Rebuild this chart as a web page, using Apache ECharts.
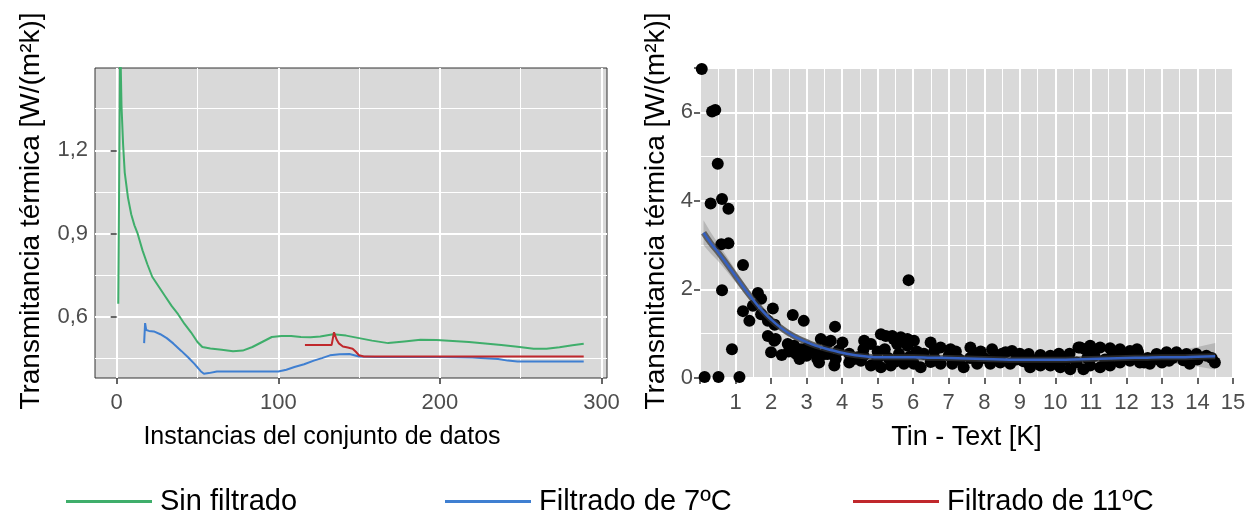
<!DOCTYPE html>
<html>
<head>
<meta charset="utf-8">
<script src="https://cdn.jsdelivr.net/npm/echarts@6/dist/echarts.min.js"></script>
<style>
  html, body { margin: 0; padding: 0; background: #ffffff; }
  #chart { width: 1255px; height: 521px; }
</style>
</head>
<body>
<div id="chart"></div>
<script>
// --- datos del panel izquierdo (instancia, transmitancia) ---
var sinFiltrado = [
    [1, 0.648], [2.2, 1.60], [3, 1.36], [4, 1.22], [5, 1.12], [7, 1.03], [9, 0.97], [11, 0.93],
    [13, 0.90], [16, 0.84], [19, 0.79], [22, 0.745], [26, 0.71], [30, 0.675], [34, 0.64],
    [38, 0.61], [42, 0.575], [46, 0.545], [50, 0.51], [53, 0.492], [58, 0.487], [65, 0.482],
    [72, 0.477], [78, 0.479], [84, 0.492], [90, 0.51], [96, 0.528], [102, 0.532], [108, 0.532],
    [114, 0.528], [120, 0.527], [126, 0.53], [134, 0.538], [142, 0.533], [150, 0.524],
    [158, 0.515], [168, 0.506], [178, 0.512], [188, 0.518], [198, 0.517], [208, 0.514],
    [218, 0.51], [228, 0.505], [238, 0.499], [248, 0.493], [258, 0.486], [266, 0.486],
    [274, 0.491], [282, 0.498], [289, 0.504]
];
var filtrado7 = [
    [17, 0.506], [17.6, 0.578], [18.3, 0.553], [20, 0.55], [23, 0.548], [27, 0.538], [31, 0.524],
    [35, 0.505], [40, 0.478], [44, 0.456], [48, 0.432], [52, 0.405], [54, 0.396], [57, 0.398],
    [62, 0.404], [75, 0.404], [90, 0.404], [100, 0.404], [105, 0.41], [110, 0.42], [116, 0.43],
    [122, 0.443], [127, 0.452], [132, 0.462], [138, 0.466], [144, 0.467], [150, 0.458],
    [160, 0.456], [180, 0.456], [200, 0.456], [220, 0.454], [236, 0.449], [242, 0.443],
    [248, 0.44], [289, 0.44]
];
var filtrado11 = [
    [116.5, 0.499], [133, 0.499], [134.5, 0.545], [136, 0.52], [137.5, 0.505], [140, 0.494],
    [143, 0.49], [146, 0.486], [148, 0.475], [150, 0.462], [153, 0.458], [289, 0.458]
];

// --- datos del panel derecho (Tin - Text, transmitancia) ---
var puntos = [
    [0.05, 6.98], [0.34, 6.02], [0.43, 6.05], [0.50, 4.84], [0.30, 3.94], [0.62, 4.04], [0.80, 3.82],
    [0.60, 3.02], [0.80, 3.04], [0.62, 1.98], [1.21, 2.55], [0.90, 0.65], [0.13, 0.02], [0.52, 0.02],
    [1.11, 0.02], [1.63, 1.92], [1.72, 1.79], [1.49, 1.63], [1.21, 1.51], [1.39, 1.29], [2.05, 1.57],
    [1.72, 1.44], [1.91, 1.29], [2.10, 1.20], [2.61, 1.42], [2.92, 1.29], [3.80, 1.16], [1.91, 0.95],
    [2.13, 0.88], [2.09, 0.84], [2.47, 0.77], [2.65, 0.73], [2.84, 0.65], [3.03, 0.69], [3.22, 0.61],
    [3.40, 0.88], [3.59, 0.80], [2.00, 0.58], [2.30, 0.52], [2.50, 0.60], [2.70, 0.55], [2.80, 0.43],
    [3.00, 0.50], [3.30, 0.43], [3.35, 0.35], [3.08, 0.65], [3.68, 0.84], [4.01, 0.80], [3.59, 0.54],
    [3.82, 0.43], [3.78, 0.28], [3.50, 0.54], [4.62, 0.84], [4.81, 0.77], [5.23, 0.95], [5.41, 0.95],
    [5.65, 0.92], [5.84, 0.88], [6.02, 0.84], [5.55, 0.77], [5.84, 0.73], [6.49, 0.80], [6.77, 0.69],
    [7.05, 0.65], [4.34, 0.43], [4.53, 0.39], [4.81, 0.28], [5.09, 0.24], [5.37, 0.28], [5.74, 0.32],
    [6.02, 0.32], [6.21, 0.24], [6.49, 0.36], [6.77, 0.32], [7.10, 0.32], [4.43, 0.47], [4.99, 0.43],
    [5.87, 2.21], [7.42, 0.24], [7.61, 0.69], [7.80, 0.32], [7.90, 0.60], [8.17, 0.32], [8.22, 0.65],
    [8.45, 0.35], [8.60, 0.58], [8.73, 0.32], [8.78, 0.61], [9.25, 0.54], [9.29, 0.24], [9.58, 0.52],
    [9.58, 0.28], [9.86, 0.50], [9.86, 0.28], [10.10, 0.55], [10.14, 0.24], [10.40, 0.55], [10.42, 0.20],
    [10.65, 0.69], [10.79, 0.20], [10.84, 0.65], [10.70, 0.69], [10.98, 0.73], [10.98, 0.28], [11.26, 0.69],
    [11.26, 0.24], [11.54, 0.67], [11.54, 0.28], [11.82, 0.65], [11.82, 0.35], [12.10, 0.61], [12.10, 0.39],
    [12.33, 0.58], [12.38, 0.35], [12.50, 0.35], [12.66, 0.32], [12.85, 0.54], [13.00, 0.35], [13.13, 0.58],
    [13.20, 0.39], [13.41, 0.58], [13.69, 0.54], [13.78, 0.32], [13.97, 0.54], [14.25, 0.50], [14.49, 0.35],
    [4.2, 0.55], [4.6, 0.5], [5.0, 0.6], [5.3, 0.45], [5.6, 0.55], [5.9, 0.48], [6.3, 0.55], [6.6, 0.45],
    [7.0, 0.5], [7.3, 0.42], [7.6, 0.45], [8.0, 0.45], [8.3, 0.5], [8.9, 0.42], [9.1, 0.38], [9.4, 0.4],
    [9.7, 0.42], [10.0, 0.38], [10.3, 0.42], [10.6, 0.35], [10.9, 0.45], [11.1, 0.5], [11.4, 0.42],
    [11.7, 0.5], [12.0, 0.48], [12.2, 0.5], [12.6, 0.45], [12.9, 0.42], [13.3, 0.45], [13.6, 0.4],
    [14.0, 0.42], [14.4, 0.45], [3.9, 0.62], [4.2, 0.35], [4.6, 0.65], [5.2, 0.65], [5.5, 0.37],
    [6.1, 0.6], [6.6, 0.62], [7.2, 0.6], [7.8, 0.55], [8.5, 0.55], [9.0, 0.55], [11.0, 0.6], [11.6, 0.6],
    [12.3, 0.65], [5.09, 0.99], [5.45, 0.88]
];
var ajusteX = [0.1, 0.3, 0.5, 0.75, 1, 1.25, 1.5, 1.75, 2, 2.25, 2.5, 2.75, 3, 3.25, 3.5, 3.75, 4, 4.25,
    4.5, 4.75, 5, 5.5, 6, 6.5, 7, 7.5, 8, 8.5, 9, 9.5, 10, 10.5, 11, 11.5, 12, 12.5, 13, 13.5, 14, 14.5];
var ajusteY = [3.28, 3.05, 2.85, 2.58, 2.30, 2.02, 1.76, 1.52, 1.32, 1.15, 1.01, 0.90, 0.81, 0.73, 0.67,
    0.62, 0.57, 0.53, 0.50, 0.48, 0.47, 0.47, 0.47, 0.46, 0.45, 0.44, 0.43, 0.42, 0.41, 0.41, 0.41, 0.42,
    0.43, 0.44, 0.45, 0.46, 0.47, 0.47, 0.48, 0.49];
var bandaInf = [3.00, 2.81, 2.65, 2.41, 2.16, 1.90, 1.66, 1.43, 1.24, 1.08, 0.95, 0.84, 0.76, 0.68, 0.62,
    0.57, 0.52, 0.49, 0.46, 0.44, 0.43, 0.43, 0.43, 0.42, 0.41, 0.40, 0.39, 0.38, 0.37, 0.37, 0.37, 0.37,
    0.38, 0.38, 0.38, 0.37, 0.35, 0.31, 0.26, 0.19];
var bandaSup = [3.56, 3.29, 3.05, 2.75, 2.44, 2.14, 1.86, 1.61, 1.40, 1.22, 1.07, 0.96, 0.86, 0.78, 0.72,
    0.67, 0.62, 0.57, 0.54, 0.52, 0.51, 0.51, 0.51, 0.50, 0.49, 0.48, 0.47, 0.46, 0.45, 0.45, 0.45, 0.47,
    0.48, 0.50, 0.52, 0.55, 0.59, 0.63, 0.70, 0.79];

var leftXTicks = [0, 100, 200, 300];
var leftYTicks = [0.6, 0.9, 1.2];

(function () {
    var myChart = echarts.init(document.getElementById('chart'));
    var fuente = 'Liberation Sans, Arial, sans-serif';
    var gris = '#4d4d4d';

    var lineaAjuste = ajusteX.map(function (x, i) { return [x, ajusteY[i]]; });

    function esTick(v, lista) {
        for (var i = 0; i < lista.length; i++) {
            if (Math.abs(v - lista[i]) < 1e-6) return true;
        }
        return false;
    }

    var ejeComun = {
        axisLine: { show: false },
        axisTick: { show: true, length: 6, lineStyle: { color: '#333', width: 1.5 } },
        axisLabel: { color: gris, fontSize: 22, fontFamily: fuente, margin: 7 },
        splitLine: { show: true, lineStyle: { color: '#ffffff', width: 2 } },
        minorSplitLine: { show: true, lineStyle: { color: '#ffffff', width: 1 } },
        nameLocation: 'middle'
    };
    var etiquetaX = Object.assign({}, ejeComun.axisLabel, { margin: 14 });
    function titulo(size, pad) {
        return { color: '#000', fontSize: size, fontFamily: fuente, padding: pad || 0 };
    }

    option = {
        backgroundColor: '#ffffff',
        animation: false,
        legend: [
            { data: ['Sin filtrado'], left: 66 },
            { data: ['Filtrado de 7ºC'], left: 445 },
            { data: ['Filtrado de 11ºC'], left: 853 }
        ].map(function (l) {
            l.top = 487;
            l.padding = 0;
            l.icon = 'rect';
            l.itemWidth = 86;
            l.itemHeight = 3;
            l.textStyle = { color: '#000', fontSize: 29, fontFamily: fuente, padding: [0, 0, 0, 3] };
            return l;
        }),
        grid: [
            { left: 95, top: 68, width: 512, height: 310, show: true, backgroundColor: '#d9d9d9', borderColor: '#333', borderWidth: 1 },
            { left: 700, top: 68, width: 533, height: 310, show: true, backgroundColor: '#d9d9d9', borderColor: '#333', borderWidth: 1 }
        ],
        xAxis: [
            Object.assign({}, ejeComun, {
                gridIndex: 0, type: 'value', min: -13.4, max: 303.4, splitNumber: 3,
                name: 'Instancias del conjunto de datos', nameGap: 47,
                nameTextStyle: titulo(25, [0, 58, 0, 0]),
                minorTick: { show: false, splitNumber: 2 },
                axisTick: Object.assign({}, ejeComun.axisTick, { customValues: leftXTicks }),
                axisLabel: Object.assign({}, etiquetaX, {
                    formatter: function (v) { return esTick(v, leftXTicks) ? String(v) : ''; }
                })
            }),
            Object.assign({}, ejeComun, {
                gridIndex: 1, type: 'value', min: 0, max: 15, interval: 1,
                name: 'Tin - Text [K]', nameGap: 46,
                nameTextStyle: titulo(27),
                minorTick: { show: false, splitNumber: 2 },
                axisLabel: Object.assign({}, etiquetaX, {
                    formatter: function (v) { return v === 0 ? '' : String(v); }
                })
            })
        ],
        yAxis: [
            Object.assign({}, ejeComun, {
                gridIndex: 0, type: 'value', min: 0.3804, max: 1.4966, splitNumber: 4,
                name: 'Transmitancia térmica [W/(m²k)]', nameGap: 50,
                nameTextStyle: titulo(28, [0, 0, 0, 24]),
                minorTick: { show: false, splitNumber: 2 },
                axisTick: Object.assign({}, ejeComun.axisTick, { customValues: leftYTicks }),
                axisLabel: Object.assign({}, ejeComun.axisLabel, {
                    formatter: function (v) { return esTick(v, leftYTicks) ? v.toFixed(1).replace('.', ',') : ''; }
                })
            }),
            Object.assign({}, ejeComun, {
                gridIndex: 1, type: 'value', min: 0, max: 7, interval: 2,
                name: 'Transmitancia térmica [W/(m²k)]', nameGap: 30,
                nameTextStyle: titulo(28, [0, 0, 0, 24]),
                minorTick: { show: false, splitNumber: 2 },
                axisLabel: Object.assign({}, ejeComun.axisLabel, {
                    formatter: function (v) { return v === 7 ? '' : String(v); }
                })
            })
        ],
        series: [
            {
                name: 'Sin filtrado', type: 'line', xAxisIndex: 0, yAxisIndex: 0, data: sinFiltrado,
                showSymbol: false, symbol: 'none', clip: true,
                lineStyle: { color: '#3fae6b', width: 2 }, itemStyle: { color: '#3fae6b' }
            },
            {
                name: 'Filtrado de 7ºC', type: 'line', xAxisIndex: 0, yAxisIndex: 0, data: filtrado7,
                showSymbol: false, symbol: 'none',
                lineStyle: { color: '#3f7fd1', width: 2 }, itemStyle: { color: '#3f7fd1' }
            },
            {
                name: 'Filtrado de 11ºC', type: 'line', xAxisIndex: 0, yAxisIndex: 0, data: filtrado11,
                showSymbol: false, symbol: 'none',
                lineStyle: { color: '#c0282c', width: 2 }, itemStyle: { color: '#c0282c' }
            },
            {
                // banda de confianza del ajuste
                name: 'banda', type: 'custom', xAxisIndex: 1, yAxisIndex: 1,
                data: [[ajusteX[0], ajusteY[0]]], clip: true, silent: true,
                renderItem: function (params, api) {
                    var pts = [];
                    for (var i = 0; i < ajusteX.length; i++) {
                        pts.push(api.coord([ajusteX[i], bandaSup[i]]));
                    }
                    for (var j = ajusteX.length - 1; j >= 0; j--) {
                        pts.push(api.coord([ajusteX[j], bandaInf[j]]));
                    }
                    return { type: 'polygon', shape: { points: pts }, style: { fill: 'rgba(150,150,150,0.5)' } };
                }
            },
            {
                name: 'puntos', type: 'scatter', xAxisIndex: 1, yAxisIndex: 1, data: puntos,
                symbolSize: 12, itemStyle: { color: '#000000', opacity: 1 }, clip: true
            },
            {
                name: 'sombra', type: 'line', xAxisIndex: 1, yAxisIndex: 1, data: lineaAjuste,
                showSymbol: false, symbol: 'none', smooth: true,
                lineStyle: { color: 'rgba(55,55,55,0.7)', width: 6 }
            },
            {
                name: 'ajuste', type: 'line', xAxisIndex: 1, yAxisIndex: 1, data: lineaAjuste,
                showSymbol: false, symbol: 'none', smooth: true,
                lineStyle: { color: '#3560c0', width: 2.5 }
            }
        ]
    };
    myChart.setOption(option);
})();
</script>
</body>
</html>
